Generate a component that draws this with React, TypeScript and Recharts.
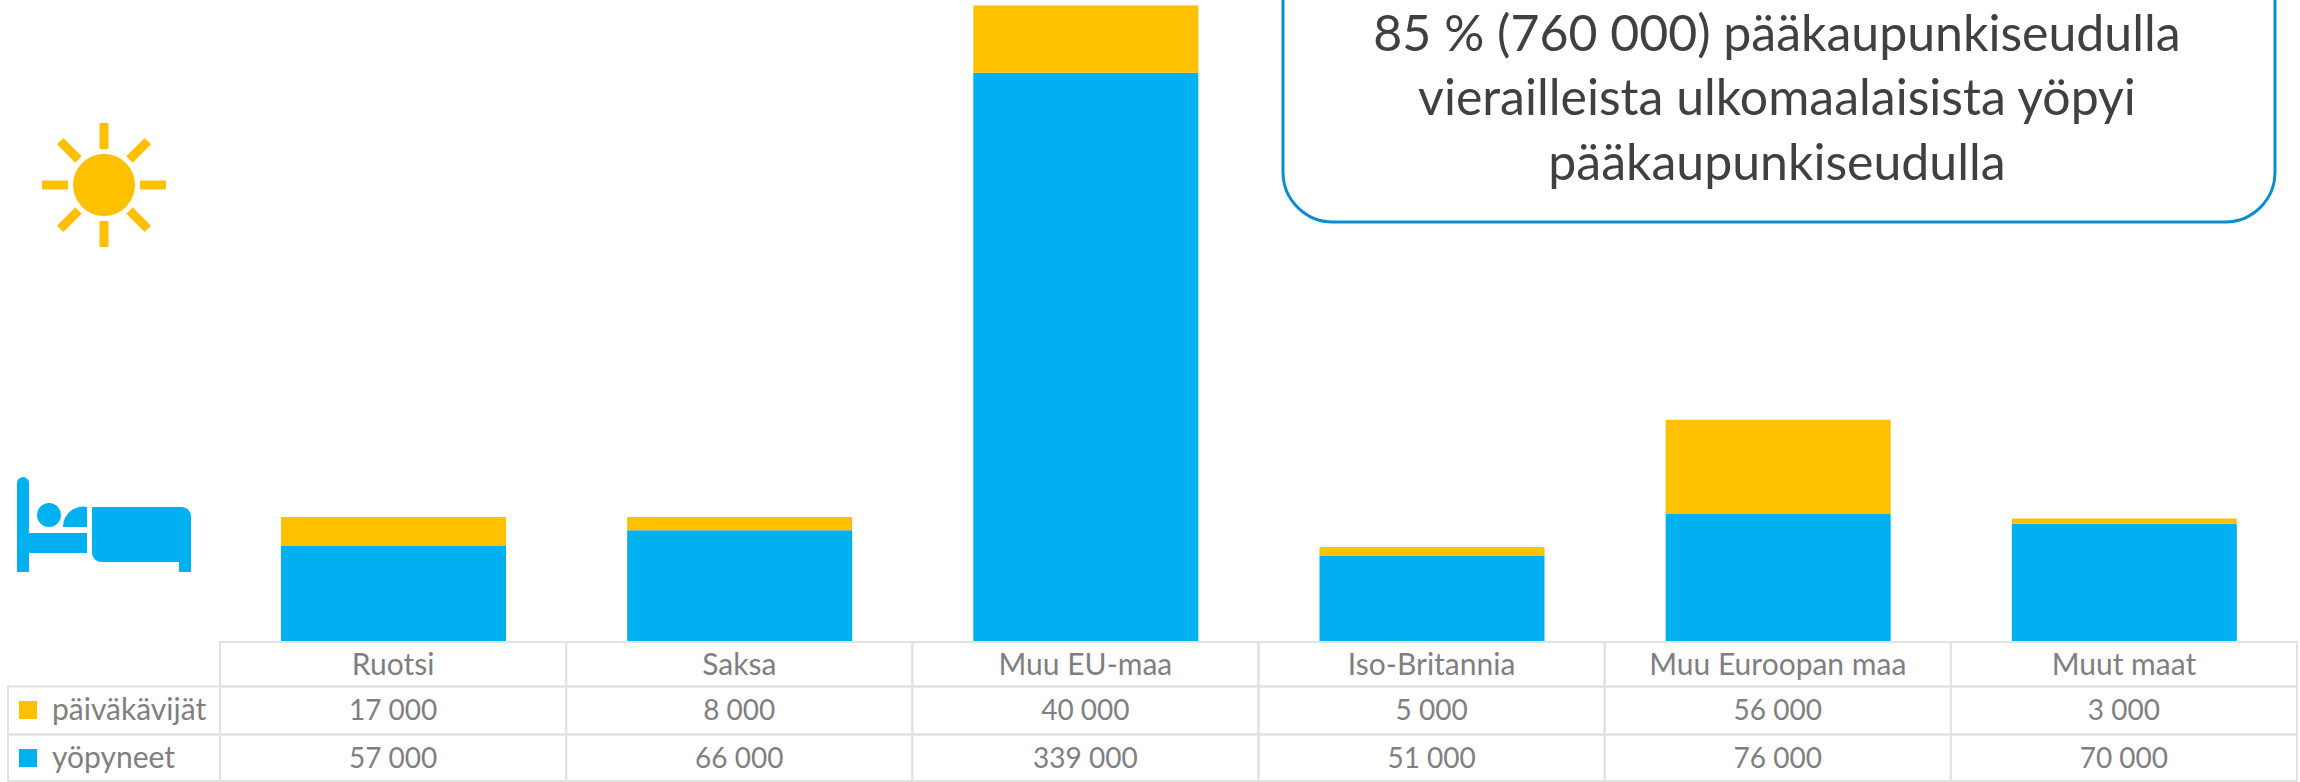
import { BarChart, Bar, XAxis, YAxis } from "recharts";

const categories = ["Ruotsi", "Saksa", "Muu EU-maa", "Iso-Britannia", "Muu Euroopan maa", "Muut maat"];
const paivakavijat = [17000, 8000, 40000, 5000, 56000, 3000];
const yopyneet = [57000, 66000, 339000, 51000, 76000, 70000];
const calloutLines = [
  "85 % (760 000) pääkaupunkiseudulla",
  "vierailleista ulkomaalaisista yöpyi",
  "pääkaupunkiseudulla",
];

const chartData = categories.map((name, i) => ({
  name,
  paivakavijat: paivakavijat[i],
  yopyneet: yopyneet[i],
}));

const FONT = "Lato, sans-serif";
const GRID = "#e2e2e2";
const TEXT = "#7f7f7f";
const BLUE = "#00b0f0";
const YELLOW = "#ffc000";

const fmt = (v: number) => v.toLocaleString("en-US").replace(/,/g, "\u00a0");

// one table column per category, hung off the x axis tick
function TableTick({ x, index, payload }: any) {
  const w = 346.15;
  const left = x - w / 2;
  return (
    <g>
      <rect x={left} y={642} width={w} height={44.5} fill="none" stroke={GRID} strokeWidth={2} />
      <rect x={left} y={686.5} width={w} height={48} fill="none" stroke={GRID} strokeWidth={2} />
      <rect x={left} y={734.5} width={w} height={46.5} fill="none" stroke={GRID} strokeWidth={2} />
      <text x={x} y={675} textAnchor="middle" fontSize={30} fontFamily={FONT} fill={TEXT}>
        {payload.value}
      </text>
      <text x={x} y={720} textAnchor="middle" fontSize={28} fontFamily={FONT} fill={TEXT}>
        {fmt(paivakavijat[index])}
      </text>
      <text x={x} y={768} textAnchor="middle" fontSize={28} fontFamily={FONT} fill={TEXT}>
        {fmt(yopyneet[index])}
      </text>
    </g>
  );
}

function Sun() {
  const rays = [0, 45, 90, 135, 180, 225, 270, 315];
  return (
    <g fill={YELLOW}>
      <circle cx={104} cy={185} r={31} />
      {rays.map((a) => (
        <rect key={a} x={99.5} y={123} width={9} height={26} transform={`rotate(${a} 104 185)`} />
      ))}
    </g>
  );
}

function BedIcon() {
  return (
    <g fill={BLUE}>
      <path d="M17 572 V483 a6 6 0 0 1 12 0 V533 H87 V553 H29 V572 Z" />
      <circle cx={49} cy={515} r={12} />
      <path d="M63 527 a20 20 0 0 1 24 -20 V527 Z" />
      <path d="M92 507 H182 a9 9 0 0 1 9 9 V572 H179 V562 H101 a9 9 0 0 1 -9 -9 Z" />
    </g>
  );
}

export default function App() {
  return (
    <div style={{ position: "absolute", left: 0, top: 0, width: 2300, height: 782, background: "#fff", overflow: "hidden" }}>
      <BarChart
        width={2300}
        height={782}
        data={chartData}
        margin={{ top: 5.6, right: 3, bottom: 0, left: 220 }}
        barSize={225}
      >
        <XAxis
          dataKey="name"
          height={141}
          interval={0}
          axisLine={false}
          tickLine={false}
          tick={<TableTick />}
        />
        <YAxis hide domain={[0, 379000]} />
        <Bar dataKey="yopyneet" stackId="a" fill={BLUE} isAnimationActive={false} />
        <Bar dataKey="paivakavijat" stackId="a" fill={YELLOW} isAnimationActive={false} />
      </BarChart>
      <svg width={2300} height={782} style={{ position: "absolute", left: 0, top: 0, pointerEvents: "none" }}>
        <Sun />
        <BedIcon />
        <rect x={1283} y={-80} width={992} height={302} rx={50} fill="#fff" stroke="#0b8dcf" strokeWidth={3} />
        {calloutLines.map((line, i) => (
          <text key={line} x={1777} y={[51, 115, 180][i]} textAnchor="middle" fontSize={50} fontFamily={FONT} fill="#404040">
            {line}
          </text>
        ))}
        {/* legend cells left of the table */}
        <rect x={8} y={686.5} width={212} height={48} fill="none" stroke={GRID} strokeWidth={2} />
        <rect x={8} y={734.5} width={212} height={46.5} fill="none" stroke={GRID} strokeWidth={2} />
        <rect x={19} y={701} width={18} height={18} fill={YELLOW} />
        <rect x={19} y={749} width={18} height={18} fill={BLUE} />
        <text x={52} y={720} fontSize={30} fontFamily={FONT} fill={TEXT}>päiväkävijät</text>
        <text x={52} y={768} fontSize={30} fontFamily={FONT} fill={TEXT}>yöpyneet</text>
      </svg>
    </div>
  );
}
